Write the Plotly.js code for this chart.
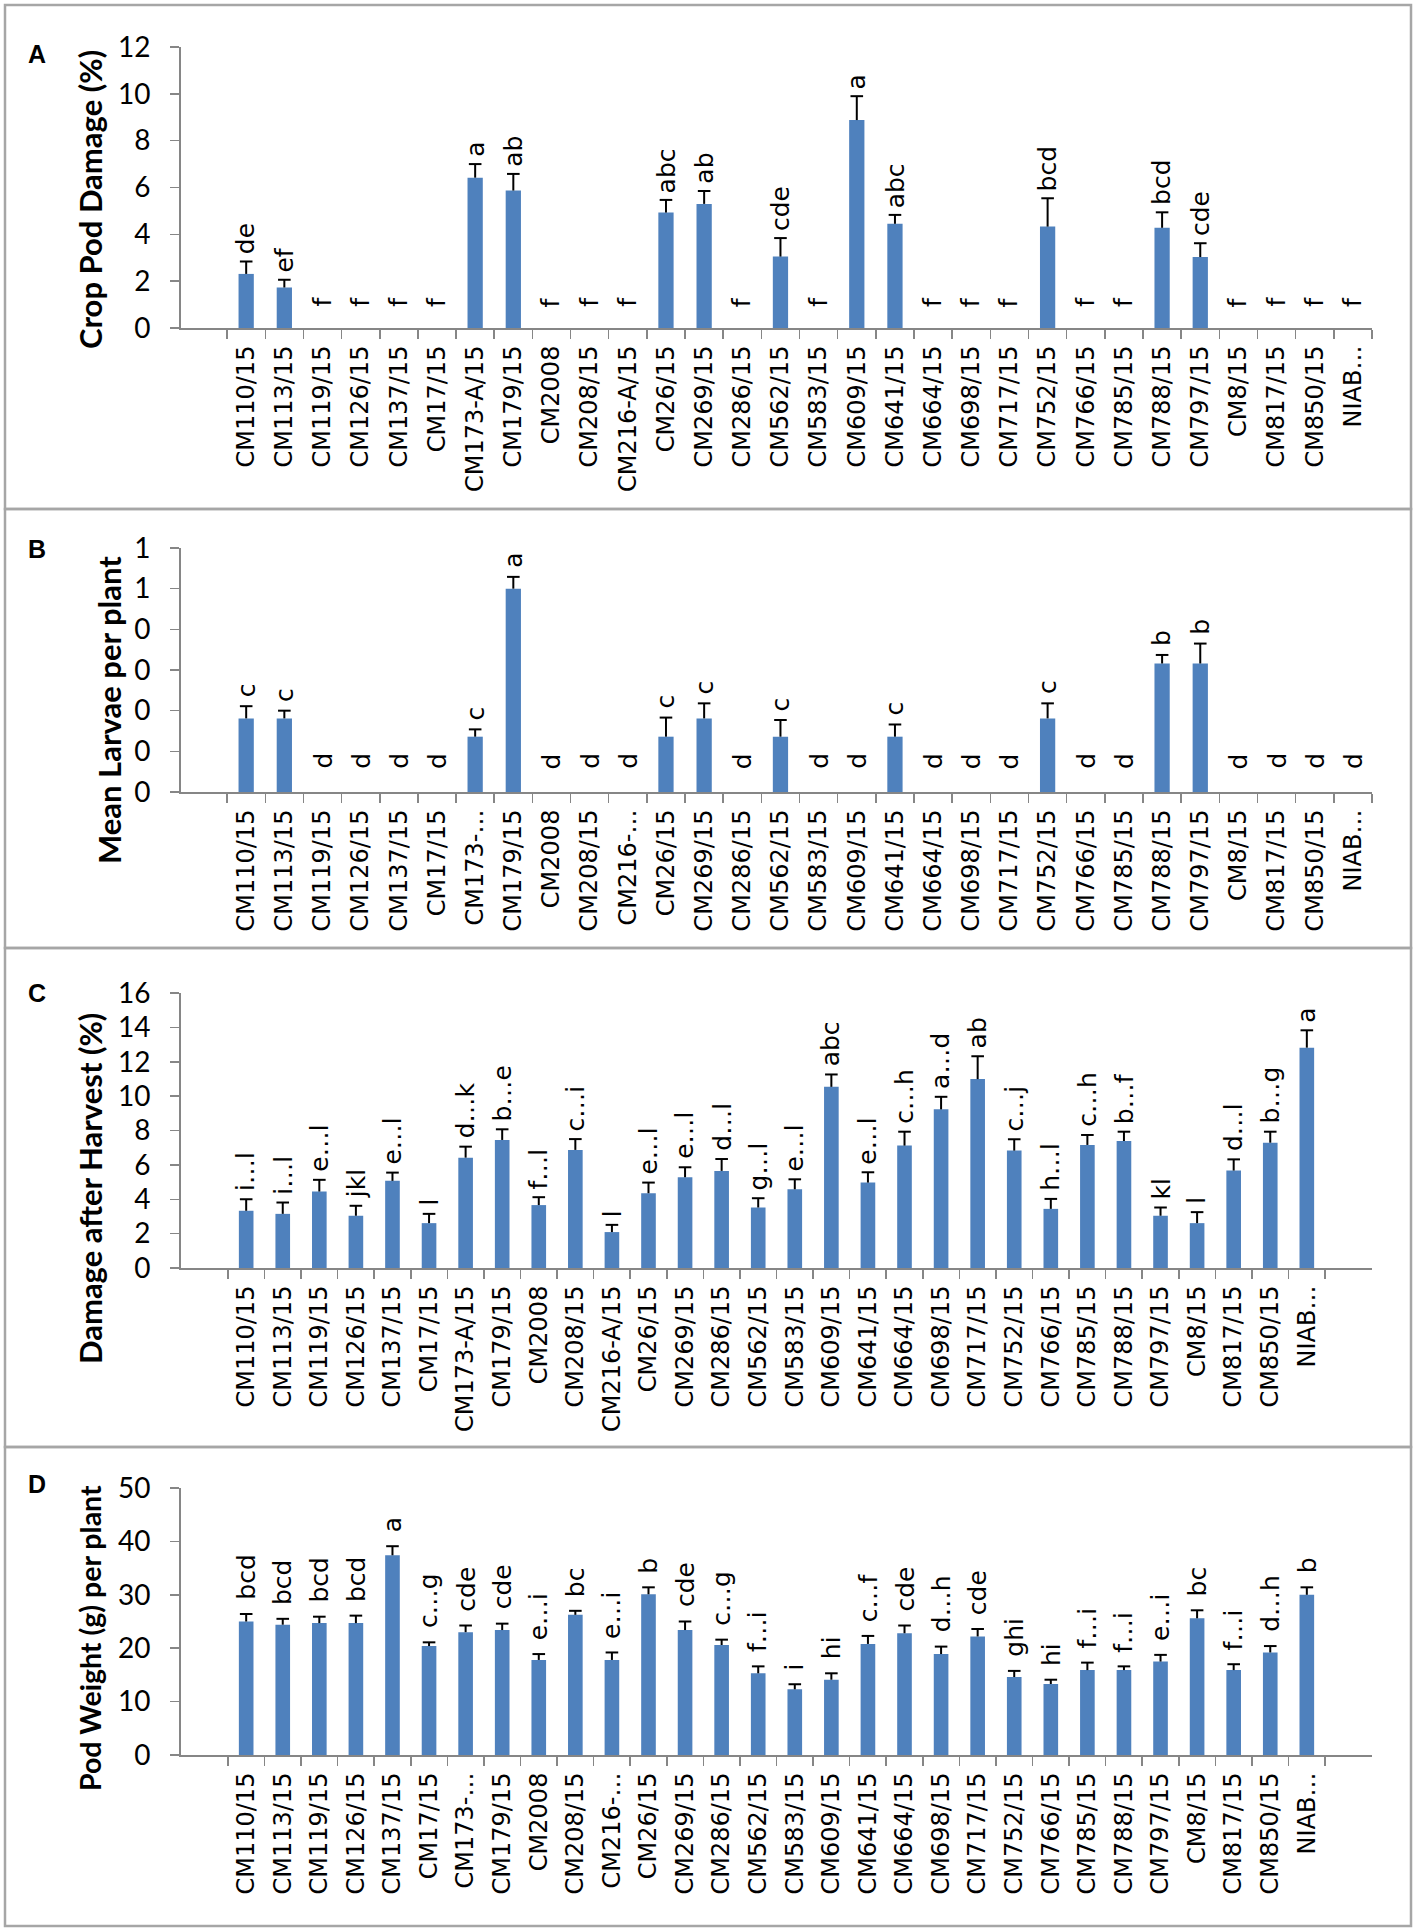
<!DOCTYPE html>
<html>
<head>
<meta charset="utf-8">
<script src="https://cdn.plot.ly/plotly-3.0.1.min.js"></script>
<style>html,body{margin:0;padding:0;background:#fff;}#chart{width:1417px;height:1932px;}</style>
</head>
<body>
<div id="chart"></div>
<script>
// ---------- DATA ----------
var categories = ['CM110/15','CM113/15','CM119/15','CM126/15','CM137/15','CM17/15','CM173-A/15','CM179/15','CM2008','CM208/15','CM216-A/15','CM26/15','CM269/15','CM286/15','CM562/15','CM583/15','CM609/15','CM641/15','CM664/15','CM698/15','CM717/15','CM752/15','CM766/15','CM785/15','CM788/15','CM797/15','CM8/15','CM817/15','CM850/15','NIAB…'];
var tickLabelsAC = ['CM110/15','CM113/15','CM119/15','CM126/15','CM137/15','CM17/15','CM173-A/15','CM179/15','CM2008','CM208/15','CM216-A/15','CM26/15','CM269/15','CM286/15','CM562/15','CM583/15','CM609/15','CM641/15','CM664/15','CM698/15','CM717/15','CM752/15','CM766/15','CM785/15','CM788/15','CM797/15','CM8/15','CM817/15','CM850/15','NIAB…'];
var tickLabelsBD = ['CM110/15','CM113/15','CM119/15','CM126/15','CM137/15','CM17/15','CM173-…','CM179/15','CM2008','CM208/15','CM216-…','CM26/15','CM269/15','CM286/15','CM562/15','CM583/15','CM609/15','CM641/15','CM664/15','CM698/15','CM717/15','CM752/15','CM766/15','CM785/15','CM788/15','CM797/15','CM8/15','CM817/15','CM850/15','NIAB…'];

// A: Crop Pod Damage (%)
var podDamage    = [2.31,1.73,0,0,0,0,6.42,5.87,0,0,0,4.93,5.30,0,3.05,0,8.88,4.45,0,0,0,4.33,0,0,4.28,3.03,0,0,0,0];
var podDamageErr = [0.53,0.33,0,0,0,0,0.58,0.71,0,0,0,0.54,0.55,0,0.79,0,1.02,0.38,0,0,0,1.21,0,0,0.66,0.59,0,0,0,0];
var podDamageLetters = ['de','ef','f','f','f','f','a','ab','f','f','f','abc','ab','f','cde','f','a','abc','f','f','f','bcd','f','f','bcd','cde','f','f','f','f'];

// B: Mean Larvae per plant
var larvae    = [0.181,0.181,0,0,0,0,0.136,0.500,0,0,0,0.136,0.181,0,0.136,0,0,0.136,0,0,0,0.181,0,0,0.316,0.316,0,0,0,0];
var larvaeErr = [0.030,0.019,0,0,0,0,0.018,0.029,0,0,0,0.047,0.037,0,0.041,0,0,0.030,0,0,0,0.037,0,0,0.021,0.049,0,0,0,0];
var larvaeLetters = ['c','c','d','d','d','d','c','a','d','d','d','c','c','d','c','d','d','c','d','d','d','c','d','d','b','b','d','d','d','d'];
var larvaeTickVals = [0,0.1,0.2,0.3,0.4,0.5,0.6];
var larvaeTickText = ['0','0','0','0','0','1','1'];

// C: Damage after Harvest (%)
var harvestDamage    = [3.33,3.15,4.45,3.04,5.07,2.61,6.42,7.45,3.66,6.87,2.09,4.35,5.28,5.65,3.52,4.58,10.54,4.97,7.12,9.23,10.99,6.83,3.44,7.16,7.39,3.04,2.61,5.67,7.29,12.82];
var harvestDamageErr = [0.67,0.66,0.68,0.58,0.48,0.54,0.64,0.62,0.46,0.63,0.42,0.62,0.58,0.69,0.54,0.58,0.72,0.60,0.81,0.73,1.33,0.66,0.58,0.58,0.54,0.48,0.64,0.65,0.64,1.01];
var harvestDamageLetters = ['i…l','i…l','e…l','jkl','e…l','l','d…k','b…e','f…l','c…i','l','e…l','e…l','d…l','g…l','e…l','abc','e…l','c…h','a…d','ab','c…j','h…l','c…h','b…f','kl','l','d…l','b…g','a'];

// D: Pod Weight (g) per plant
var podWeight    = [25.0,24.4,24.7,24.7,37.4,20.4,23.0,23.4,17.8,26.25,17.8,30.1,23.4,20.6,15.3,12.3,14.1,20.8,22.8,18.9,22.2,14.6,13.3,15.9,15.9,17.5,25.6,15.9,19.2,30.0];
var podWeightErr = [1.4,1.1,1.2,1.4,1.7,0.7,1.25,1.2,1.1,0.75,1.4,1.3,1.6,1.0,1.3,0.95,1.2,1.5,1.45,1.4,1.4,1.15,0.8,1.4,0.7,1.25,1.5,1.1,1.2,1.4];
var podWeightLetters = ['bcd','bcd','bcd','bcd','a','c…g','cde','cde','e…i','bc','e…i','b','cde','c…g','f…i','i','hi','c…f','cde','d…h','cde','ghi','hi','f…i','f…i','e…i','bc','f…i','d…h','b'];

// ---------- LAYOUT CONSTANTS ----------
var W = 1417, H = 1932;
function px(x){ return x / W; }
function py(y){ return 1 - y / H; }
var BAR = '#4F81BD', AXIS = '#868686', BORDER = '#A6A6A6';
var xDomain = [px(181), px(1372)];

var panels = [
  {letter:'A', title:'Crop Pod Damage (%)', titleSize:31, vals:podDamage, errs:podDamageErr, labels:podDamageLetters, ticks:tickLabelsAC,
   top:47, bottom:328, range:[0,12], dtick:2, titleX:90, titleY:200, letterY:54, box:[5,509], shift:5, zeroShift:19},
  {letter:'B', title:'Mean Larvae per plant', titleSize:31, vals:larvae, errs:larvaeErr, labels:larvaeLetters, ticks:tickLabelsBD,
   top:548, bottom:792, range:[0,0.6], tickvals:larvaeTickVals, ticktext:larvaeTickText, titleX:109, titleY:710, letterY:549, box:[509,948], shift:7, zeroShift:21},
  {letter:'C', title:'Damage after Harvest (%)', titleSize:31, vals:harvestDamage, errs:harvestDamageErr, labels:harvestDamageLetters, ticks:tickLabelsAC,
   top:993, bottom:1268, range:[0,16], dtick:2, titleX:90, titleY:1189, letterY:993, box:[948,1447], shift:6, zeroShift:18},
  {letter:'D', title:'Pod Weight (g) per plant', titleSize:28.5, vals:podWeight, errs:podWeightErr, labels:podWeightLetters, ticks:tickLabelsBD,
   top:1488, bottom:1755, range:[0,50], dtick:10, titleX:90, titleY:1638, letterY:1484, box:[1447,1926], shift:12, zeroShift:18}
];

var data = [], annotations = [], shapes = [];
var layout = {
  width: W, height: H,
  margin: {l:0, r:0, t:0, b:0, pad:0},
  paper_bgcolor: '#fff', plot_bgcolor: '#fff',
  showlegend: false,
  bargap: 0.6,
  font: {family:'DejaVu Sans', color:'#000'}
};

panels.forEach(function(p, k){
  var n = k + 1;
  var xa = 'x' + (n === 1 ? '' : n), ya = 'y' + (n === 1 ? '' : n);
  var xKey = 'xaxis' + (n === 1 ? '' : n), yKey = 'yaxis' + (n === 1 ? '' : n);

  data.push({type:'bar', x:categories, y:p.vals, xaxis:xa, yaxis:ya,
    marker:{color:BAR, line:{width:0}}, hoverinfo:'skip'});

  // error bars (plus only): stems + caps
  var sx = [], sy = [], cx = [], cy = [];
  for (var i = 0; i < categories.length; i++) {
    if (p.errs[i] > 0) {
      sx.push(categories[i], categories[i], null);
      sy.push(p.vals[i], p.vals[i] + p.errs[i], null);
      cx.push(categories[i]); cy.push(p.vals[i] + p.errs[i]);
    }
  }
  data.push({type:'scatter', mode:'lines', x:sx, y:sy, xaxis:xa, yaxis:ya,
    line:{color:'#000', width:2}, connectgaps:false, hoverinfo:'skip'});
  data.push({type:'scatter', mode:'markers', x:cx, y:cy, xaxis:xa, yaxis:ya,
    marker:{symbol:'line-ew', size:9, line:{color:'#000', width:2}}, hoverinfo:'skip'});

  var dom = [py(p.bottom), py(p.top)];
  layout[xKey] = {
    domain: xDomain, anchor: ya, type:'category',
    categoryorder:'array', categoryarray: categories,
    tickmode:'array', tickvals: categories, ticktext: p.ticks,
    tickson:'boundaries', ticks:'outside', ticklen:9, tickwidth:1.5, tickcolor:AXIS,
    showline:true, linecolor:AXIS, linewidth:2, showgrid:false, zeroline:false,
    tickangle:-90, tickfont:{family:'DejaVu Sans', size:24, color:'#000'},
    ticklabelstandoff: 6, fixedrange:true
  };
  var yax = {
    domain: dom, anchor: xa, range: p.range, autorange:false,
    ticks:'outside', ticklen:9, tickwidth:1.5, tickcolor:AXIS,
    showline:true, linecolor:AXIS, linewidth:2, showgrid:false, zeroline:false,
    tickfont:{family:'Lato', size:28, color:'#000'}, ticklabelstandoff: 14, fixedrange:true
  };
  if (p.tickvals) { yax.tickmode = 'array'; yax.tickvals = p.tickvals; yax.ticktext = p.ticktext; }
  else { yax.tickmode = 'linear'; yax.tick0 = 0; yax.dtick = p.dtick; }
  layout[yKey] = yax;

  // significance letters
  for (var j = 0; j < categories.length; j++) {
    annotations.push({
      xref: xa, yref: ya, x: categories[j], y: p.vals[j] + p.errs[j],
      text: p.labels[j], showarrow:false, textangle:-90,
      xanchor:'center', yanchor:'bottom',
      yshift: (p.vals[j] === 0 ? p.zeroShift : p.shift),
      font:{family:'DejaVu Sans', size:25, color:'#000'}
    });
  }
  // axis title
  annotations.push({xref:'paper', yref:'paper', x:px(p.titleX), y:py(p.titleY),
    text:'<b>' + p.title + '</b>', showarrow:false, textangle:-90, xanchor:'center', yanchor:'middle',
    font:{family:'Lato', size:p.titleSize, color:'#000'}});
  // panel letter
  annotations.push({xref:'paper', yref:'paper', x:px(37), y:py(p.letterY),
    text:'<b>' + p.letter + '</b>', showarrow:false, xanchor:'center', yanchor:'middle',
    font:{family:'Liberation Sans', size:25, color:'#000'}});
  // panel border
  shapes.push({type:'rect', xref:'paper', yref:'paper', x0:px(5), x1:px(1411), y0:py(p.box[1]), y1:py(p.box[0]),
    line:{color:BORDER, width:2.5}, fillcolor:'rgba(0,0,0,0)', layer:'below'});
});

layout.annotations = annotations;
layout.shapes = shapes;

Plotly.newPlot('chart', data, layout, {staticPlot:true, displayModeBar:false});
</script>
</body>
</html>
